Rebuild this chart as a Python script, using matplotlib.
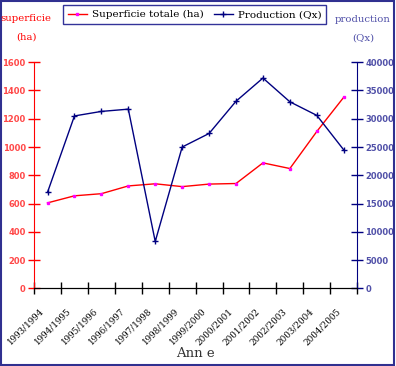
import numpy as np
import matplotlib
matplotlib.use("Agg")
import matplotlib.pyplot as plt
from matplotlib.patches import Rectangle
from matplotlib.transforms import ScaledTranslation

campagnes = ['1993/1994', '1994/1995', '1995/1996', '1996/1997', '1997/1998',
             '1998/1999', '1999/2000', '2000/2001', '2001/2002', '2002/2003',
             '2003/2004', '2004/2005']
superficie = [605, 655, 670, 725, 740, 720, 738, 742, 888, 848, 1110, 1352]
production = [17000, 30500, 31300, 31700, 8300, 25000, 27400, 33100, 37200, 33000, 30600, 24500]

rouge = '#ff0000'
rose = '#ff4848'
marine = '#000080'
bleu_txt = '#5050a8'

plt.rcParams['font.family'] = ['DejaVu Serif']

fig = plt.figure(figsize=(3.96, 3.66), dpi=100)
ax = fig.add_axes([0.086, 0.212, 0.816, 0.618])
ax2 = ax.twinx()

x = np.arange(len(campagnes)) + 0.5
l1, = ax.plot(x, superficie, color=rouge, lw=1, marker='s', ms=2,
              mfc='#ff00ff', mec='#ff00ff')
l2, = ax2.plot(x, production, color=marine, lw=1, marker='+', ms=4, mew=1)

ax.set_xlim(0, len(campagnes))
ax.set_ylim(0, 1600)
ax2.set_ylim(0, 40000)
ax.set_yticks(np.arange(0, 1601, 200))
ax2.set_yticks(np.arange(0, 40001, 5000))

# ticks en bas aux limites, etiquettes au centre
ax.set_xticks(np.arange(0, len(campagnes) + 1))
ax.set_xticklabels([])
ax.set_xticks(x, minor=True)
ax.set_xticklabels(campagnes, minor=True, rotation=45, ha='right',
                   rotation_mode='anchor', fontsize=6.3)
ax.tick_params(axis='x', which='major', direction='inout', length=8, width=1, color='black')
ax.tick_params(axis='x', which='minor', length=0, pad=13)
decal = ScaledTranslation(-8 / 100, 0, fig.dpi_scale_trans)
for t in ax.get_xticklabels(minor=True):
    t.set_transform(t.get_transform() + decal)

for a in (ax, ax2):
    a.spines['top'].set_visible(False)
    a.spines['bottom'].set_color('black')
ax2.spines['left'].set_visible(False)
ax.spines['right'].set_visible(False)
ax.spines['left'].set_color(rouge)
ax2.spines['right'].set_color(marine)

ax.tick_params(axis='y', direction='inout', length=8, width=1, color=rouge,
               labelcolor=rose, labelsize=6, pad=2)
ax2.tick_params(axis='y', direction='inout', length=8, width=1, color=marine,
                labelcolor=bleu_txt, labelsize=6, pad=2)
for t in ax.get_yticklabels() + ax2.get_yticklabels():
    t.set_family('DejaVu Sans')
    t.set_fontweight('bold')

ax.set_xlabel('Ann e', fontsize=9.5, color='#333333', labelpad=0)

fig.text(0.066, 0.95, 'superficie', color=rouge, fontsize=7.3, ha='center', va='center')
fig.text(0.066, 0.898, '(ha)', color=rouge, fontsize=7.3, ha='center', va='center')
fig.text(0.917, 0.947, 'production', color=bleu_txt, fontsize=7.3, ha='center', va='center')
fig.text(0.917, 0.895, '(Qx)', color=bleu_txt, fontsize=7.3, ha='center', va='center')

leg = fig.legend([l1, l2], ['Superficie totale (ha)', 'Production (Qx)'],
                 loc='upper center', bbox_to_anchor=(0.492, 1.0), ncol=2,
                 fontsize=7.5, frameon=True, fancybox=False, handlelength=1.8,
                 borderpad=0.45, columnspacing=1.0, handletextpad=0.5)
leg.get_frame().set_edgecolor(marine)
leg.get_frame().set_linewidth(1)

fig.patches.append(Rectangle((0.002, 0.003), 0.994, 0.994, transform=fig.transFigure,
                             fill=False, edgecolor='#303090', lw=1.5))

fig.savefig('out.png', dpi=100)
